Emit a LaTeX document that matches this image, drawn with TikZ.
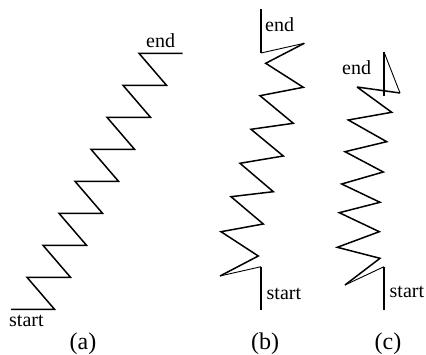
\documentclass[tikz,border=0pt]{standalone}
\usepackage{fontspec}
\setmainfont{Liberation Serif}
\usetikzlibrary{positioning}
\tikzset{
  spring/.style={line width=1.5pt, line join=miter, miter limit=4},
  thinpart/.style={line width=0.9pt},
  lbl/.style={inner sep=0pt, anchor=base west, font=\fontsize{20}{24}\selectfont},
  caption/.style={inner sep=0pt, anchor=base, font=\fontsize{24}{28}\selectfont},
}
\begin{document}
\begin{tikzpicture}[x=1pt, y=-1pt]
  \useasboundingbox (0,0) rectangle (426,355);
  % (a) staircase
  \draw[spring] (11,309.3) -- (54.5,309.3)
    foreach \i in {1,...,8} { -- ({11+16*\i},{309.3-32*\i}) -- ({54.5+16*\i},{309.3-32*\i}) };
  \node[lbl] (sa) at (9,327) {start};
  \node[lbl] (ea) at (146,47.5) {end};
  \node[caption] (ca) at (83,350) {(a)};
  % (b) sheared spring
  \draw[spring] (261,310) -- (261,266.7);
  \draw[thinpart] (261,266.7) -- (220,276);
  \draw[spring] (220,276) -- (258.3,256) -- (221,231.7) -- (263.3,224) -- (231,196.7)
    -- (273.3,191.7) -- (240,163.3) -- (283.3,156) -- (251,129.3) -- (293.3,123.3)
    -- (260,95.7) -- (303.3,87.3) -- (265.7,63.3) -- (304.3,43.3);
  \draw[thinpart] (304.3,43.3) -- (261,53);
  \draw[spring] (261,53) -- (261,9);
  \node[lbl] (sb) at (266.5,299.5) {start};
  \node[lbl] (eb) at (265,31.5) {end};
  \node[caption] (cb) at (265,350) {(b)};
  % (c) curled spring
  \draw[spring] (384,310) -- (384,266.7);
  \draw[thinpart] (384,266.7) -- (345,285);
  \draw[spring] (345,285) -- (380,258.3) -- (337.3,247.3) -- (379.3,231.7) -- (339.3,212.7)
    -- (380,202.3) -- (341.7,184) -- (383.3,172) -- (345,151.7) -- (386.7,141.7)
    -- (348.3,120) -- (391.7,112.3) -- (357,87) -- (400,93);
  \draw[thinpart] (400,93) -- (384,52);
  \draw[spring] (384,52) -- (384,96);
  \node[lbl] (sc) at (389.5,298) {start};
  \node[lbl] (ec) at (342,74.5) {end};
  \node[caption] (cc) at (388,350) {(c)};
\end{tikzpicture}
\end{document}
